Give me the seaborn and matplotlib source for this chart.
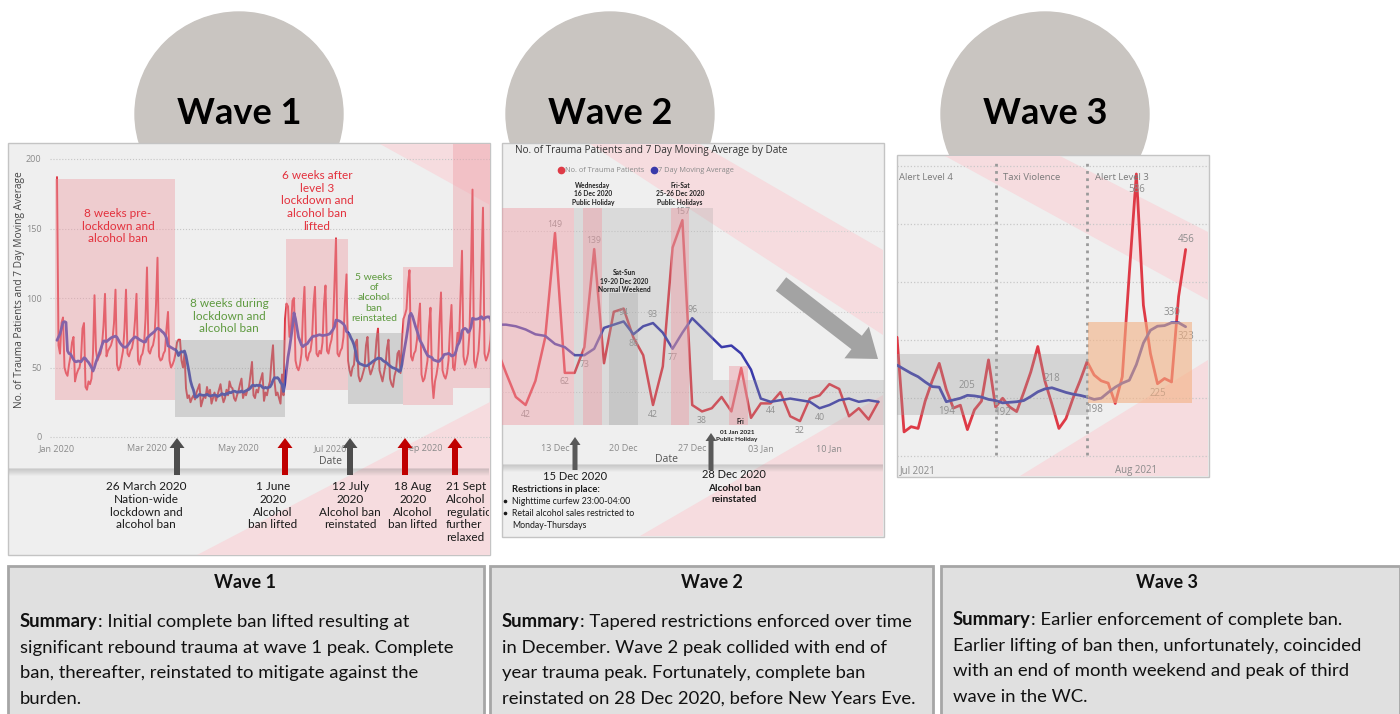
import pandas as pd
import matplotlib
matplotlib.use("Agg")
import matplotlib.pyplot as plt
from matplotlib.patches import Ellipse, Rectangle, Polygon, FancyArrow
import seaborn as sns

sns.set_theme(style="white")
plt.rcParams["font.family"] = ["Lato", "DejaVu Sans"]

# ---------------------------------------------------------------- data
# Wave 1: daily trauma patients, one row per week (Mon..Sun), 23 Dec 2019 - 18 Oct 2020
wave1_start = "2019-12-23"
wave1_counts = [
    48, 55, 60, 50, 44, 52, 58,
    46, 50, 187, 66, 60, 82, 86,
    50, 46, 44, 52, 58, 68, 72,
    40, 45, 48, 50, 56, 78, 82,
    36, 34, 40, 38, 42, 60, 102,
    62, 55, 58, 60, 66, 80, 103,
    58, 62, 64, 66, 70, 82, 106,
    52, 48, 50, 56, 62, 78, 106,
    60, 58, 62, 64, 70, 84, 103,
    55, 52, 58, 60, 66, 85, 122,
    62, 60, 64, 66, 72, 95, 129,
    58, 55, 56, 60, 62, 78, 90,
    55, 50, 52, 55, 60, 68, 70,
    70, 55, 50, 60, 35, 28, 30,
    25, 28, 30, 27, 32, 35, 38,
    22, 26, 30, 28, 36, 30, 34,
    24, 28, 32, 26, 30, 34, 38,
    30, 25, 28, 34, 30, 40, 36,
    35, 28, 26, 30, 33, 38, 42,
    28, 32, 30, 34, 36, 45, 54,
    30, 28, 34, 32, 38, 42, 46,
    26, 32, 30, 36, 40, 55, 66,
    40, 30, 32, 28, 24, 45, 30,
    85, 96, 94, 72, 80, 98, 100,
    55, 50, 48, 52, 60, 90, 108,
    58, 55, 60, 62, 70, 95, 108,
    60, 58, 62, 60, 68, 96, 109,
    62, 60, 66, 70, 78, 110, 143,
    60, 58, 62, 64, 72, 98, 117,
    55, 48, 44, 50, 52, 68, 70,
    44, 40, 42, 46, 50, 66, 72,
    50, 45, 48, 52, 55, 70, 78,
    48, 44, 40, 46, 52, 64, 70,
    42, 38, 36, 44, 48, 60, 62,
    46, 70, 85, 88, 92, 110, 120,
    58, 55, 60, 62, 70, 85, 96,
    45, 40, 42, 48, 55, 80, 93,
    42, 28, 40, 45, 52, 82, 104,
    48, 44, 42, 46, 55, 78, 95,
    50, 48, 60, 75, 68, 100, 134,
    58, 52, 55, 60, 75, 120, 178,
    55, 50, 56, 62, 80, 125, 165,
    60, 55, 58, 62, 70, 90, 100,
]
wave1_tick_dates = ["2020-01-01", "2020-03-01", "2020-05-01", "2020-07-01", "2020-09-01"]
wave1_tick_labels = ["Jan 2020", "Mar 2020", "May 2020", "Jul 2020", "Sep 2020"]
wave1_y_ticks = [0, 50, 100, 150, 200]

# Wave 2: 7 Dec 2020 - 15 Jan 2021
wave2_start = "2020-12-07"
wave2_counts = [78, 62, 47, 42, 57, 84, 149, 62, 62, 78, 139, 68, 100, 102, 84, 73, 42,
                66, 140, 157, 42, 38, 40, 47, 38, 65, 34, 43, 43, 50, 35, 32, 46, 48,
                55, 52, 35, 40, 33, 44]
wave2_avg = [92, 92, 91, 89, 86, 85, 80, 78, 73, 73, 77, 90, 92, 94, 86, 91, 93, 87, 77,
             87, 96, 90, 84, 78, 79, 74, 64, 46, 44, 45, 46, 45, 44, 40, 42, 45, 46, 44,
             45, 44]
wave2_tick_dates = ["2020-12-13", "2020-12-20", "2020-12-27", "2021-01-03", "2021-01-10"]
wave2_tick_labels = ["13 Dec", "20 Dec", "27 Dec", "03 Jan", "10 Jan"]
wave2_count_tags = [("2020-12-10", -1), ("2020-12-13", 1), ("2020-12-14", -1),
                    ("2020-12-17", 1), ("2020-12-23", -1), ("2020-12-26", 1),
                    ("2020-12-28", -1), ("2021-01-07", -1)]
wave2_avg_tags = [("2020-12-16", -1), ("2020-12-20", 1), ("2020-12-21", -1),
                  ("2020-12-23", 1), ("2020-12-25", -1), ("2020-12-27", 1),
                  ("2021-01-04", -1), ("2021-01-09", -1)]

# Wave 3: 28 Jun 2021 - 8 Aug 2021
wave3_start = "2021-06-28"
wave3_counts = [305, 142, 151, 148, 195, 230, 260, 215, 183, 188, 146, 180, 195, 266,
                185, 200, 185, 177, 210, 245, 289, 230, 190, 148, 165, 200, 230, 263,
                240, 230, 226, 191, 237, 415, 586, 360, 277, 225, 234, 228, 375, 456]
wave3_avg = [257, 250, 243, 237, 228, 220, 219, 194, 197, 200, 205, 204, 202, 198,
             196, 192, 193, 194, 196, 203, 211, 216, 218, 214, 210, 207, 205, 202,
             198, 200, 210, 219, 226, 231, 258, 295, 317, 324, 325, 330, 330, 323]
wave3_tick_dates = ["2021-07-01", "2021-08-01"]
wave3_tick_labels = ["Jul 2021", "Aug 2021"]
wave3_phase_dates = ["2021-07-12", "2021-07-25"]
wave3_phase_labels = ["Alert Level 4", "Taxi Violence", "Alert Level 3"]
wave3_count_tags = [("2021-08-01", -1.6), ("2021-08-04", -1), ("2021-08-08", 1)]
wave3_avg_tags = [("2021-07-05", -1), ("2021-07-08", 1), ("2021-07-13", -1),
                  ("2021-07-20", 1), ("2021-07-26", -1), ("2021-08-06", 1),
                  ("2021-08-08", -1)]

# ---------------------------------------------------------------- styling
RED = "#DE3A46"
BLUE = "#3A3AAA"
PINK = "#EE9CA5"
GREY = "#9E9E9E"
ORANGE = "#F4B183"
TICK = "#8A8A8A"
UI = ["Open Sans", "DejaVu Sans"]
W, H = 1400, 714

fig = plt.figure(figsize=(W / 100, H / 100), dpi=100)
fig.patch.set_facecolor("white")


def sheet(z, x0=0, y0=0, x1=W, y1=H):
    ax = fig.add_axes([x0 / W, 1 - y1 / H, (x1 - x0) / W, (y1 - y0) / H], zorder=z)
    ax.set_xlim(x0, x1)
    ax.set_ylim(y1, y0)
    ax.axis("off")
    ax.patch.set_alpha(0)
    return ax


bg = sheet(0)
top = sheet(10)
# text layer limited to the wave 1 panel, so its captions stop at the panel edge
w1_text = sheet(11, 8, 143, 489, 555)


def chart_axes(x0, y0, x1, y1):
    ax = fig.add_axes([x0 / W, 1 - y1 / H, (x1 - x0) / W, (y1 - y0) / H], zorder=5)
    ax.patch.set_alpha(0)
    for s in ax.spines.values():
        s.set_visible(False)
    return ax


def box(ax, x0, y0, x1, y1, **kw):
    ax.add_patch(Rectangle((x0, y0), x1 - x0, y1 - y0, **kw))


def shadow(ax, x0, x1, y):
    for i in range(7):
        ax.plot([x0, x1], [y + i, y + i], color="#7A7A7A", alpha=0.22 * (1 - i / 7),
                lw=1.2, solid_capstyle="butt", zorder=2.5)


def up_arrow(x, y_tip, y_base, color, w=6, hw=15, hl=10):
    top.add_patch(FancyArrow(x, y_base, 0, y_tip - y_base, width=w, head_width=hw,
                             head_length=hl, length_includes_head=True, color=color,
                             lw=0, zorder=12))


# ---------------------------------------------------------------- headers
for cx, name in [(239, "Wave 1"), (610, "Wave 2"), (1045, "Wave 3")]:
    bg.add_patch(Ellipse((cx, 114), 208, 204, color="#C9C5C1", zorder=1))
    bg.text(cx, 113, name, fontsize=26, fontweight="bold", ha="center", va="center",
            color="black", zorder=3)

# ---------------------------------------------------------------- panels
panels = [(8, 143, 490, 555), (502, 143, 884, 537), (897, 155, 1209, 477)]
for x0, y0, x1, y1 in panels:
    box(bg, x0, y0, x1, y1, facecolor="#EFEFEF", edgecolor="#C4C4C4", lw=1, zorder=2)

swooshes = [
    [(197, 555), (490, 402), (490, 555)],
    [(380, 144), (490, 144), (490, 205)],
    [(590, 144), (700, 144), (883, 250), (883, 335)],
    [(640, 536), (883, 395), (883, 536)],
    [(945, 156), (1060, 156), (1208, 232), (1208, 300)],
    [(1020, 476), (1208, 360), (1208, 476)],
]
for pts in swooshes:
    bg.add_patch(Polygon(pts, closed=True, facecolor="#F6DCDF", edgecolor="none", zorder=2.1))
shadow(bg, 9, 489, 469)
shadow(bg, 503, 883, 465)

# ---------------------------------------------------------------- wave 1 chart
d1 = pd.DataFrame({"date": pd.date_range(wave1_start, periods=len(wave1_counts)),
                   "count": wave1_counts})
d1["avg"] = d1["count"].rolling(7).mean()
d1 = d1[d1["date"] >= "2020-01-01"]

ax1 = chart_axes(50, 150, 490, 440)
sns.lineplot(data=d1, x="date", y="count", ax=ax1, color=RED, lw=1.4)
sns.lineplot(data=d1, x="date", y="avg", ax=ax1, color=BLUE, lw=2.0)
day0 = pd.Timestamp("2020-01-01")
ax1.set_xlim(day0 + pd.Timedelta(days=(50 - 57) / 1.5), day0 + pd.Timedelta(days=(490 - 57) / 1.5))
ax1.set_ylim((437 - 440) / 1.39, (437 - 150) / 1.39)
ax1.set_xticks([pd.Timestamp(d) for d in wave1_tick_dates])
ax1.set_xticklabels(wave1_tick_labels, family=UI)
ax1.set_yticks(wave1_y_ticks)
ax1.set_yticklabels([str(v) for v in wave1_y_ticks], family=UI)
ax1.tick_params(length=0, labelsize=6.5, labelcolor=TICK, pad=3)
ax1.tick_params(axis="y", pad=6)
ax1.grid(axis="y", ls=":", color="#C6C6C6", lw=0.8)
ax1.set_xlabel("")
ax1.set_ylabel("")
top.text(331, 461, "Date", fontsize=7.5, color="#555555", ha="center", va="center", family=UI)
top.text(20, 290, "No. of Trauma Patients and 7 Day Moving Average", rotation=90,
         fontsize=7.3, color="#444444", ha="center", va="center", family=UI)

for (x0, y0, x1, y1), c, a in [
        ((55, 179, 175, 400), PINK, 0.42), ((175, 340, 285, 417), GREY, 0.38),
        ((286, 239, 348, 390), PINK, 0.42), ((348, 333, 403, 404), GREY, 0.38),
        ((403, 267, 453, 405), PINK, 0.42), ((453, 144, 490, 388), PINK, 0.42)]:
    box(top, x0, y0, x1, y1, facecolor=c, alpha=a, edgecolor="none", zorder=11)

W1_RED, W1_GREEN = "#E3303C", "#5E9A3F"
top.text(118, 226, "8 weeks pre-\nlockdown and\nalcohol ban", color=W1_RED, fontsize=8.5,
         ha="center", va="center", linespacing=1.2, zorder=13)
top.text(229, 316, "8 weeks during\nlockdown and\nalcohol ban", color=W1_GREEN, fontsize=8.5,
         ha="center", va="center", linespacing=1.2, zorder=13)
top.text(317, 201, "6 weeks after\nlevel 3\nlockdown and\nalcohol ban\nlifted", color=W1_RED,
         fontsize=8.5, ha="center", va="center", linespacing=1.2, zorder=13)
top.text(374, 298, "5 weeks\nof\nalcohol\nban\nreinstated", color=W1_GREEN, fontsize=7.5,
         ha="center", va="center", linespacing=1.2, zorder=13)

for x, col in [(177, "#4D4D4D"), (285, "#C00000"), (350, "#4D4D4D"), (405, "#C00000"), (455, "#C00000")]:
    up_arrow(x, 438, 475, col)

events1 = [(146, "center", "26 March 2020\nNation-wide\nlockdown and\nalcohol ban"),
           (273, "center", "1 June\n2020\nAlcohol\nban lifted"),
           (350, "center", "12 July\n2020\nAlcohol ban\nreinstated"),
           (413, "center", "18 Aug\n2020\nAlcohol\nban lifted"),
           (446, "left", "21 Sept 2020\nAlcohol\nregulations\nfurther\nrelaxed")]
for x, ha, txt in events1:
    w1_text.text(x, 481, txt, fontsize=8.5, color="#1A1A1A", ha=ha, va="top",
                 linespacing=1.2, clip_on=True)

# ---------------------------------------------------------------- wave 2 chart
d2 = pd.DataFrame({"date": pd.date_range(wave2_start, periods=len(wave2_counts)),
                   "count": wave2_counts, "avg": wave2_avg})
ax2 = chart_axes(502, 195, 884, 440)
sns.lineplot(data=d2, x="date", y="count", ax=ax2, color=RED, lw=1.8)
sns.lineplot(data=d2, x="date", y="avg", ax=ax2, color=BLUE, lw=1.8)
ref2 = pd.Timestamp("2020-12-13")
ax2.set_xlim(ref2 + pd.Timedelta(days=(502 - 555) / 9.8), ref2 + pd.Timedelta(days=(884 - 555) / 9.8))
ax2.set_ylim((472.5 - 440) / 1.607, (472.5 - 195) / 1.607)
ax2.set_xticks([pd.Timestamp(d) for d in wave2_tick_dates])
ax2.set_xticklabels(wave2_tick_labels, family=UI)
ax2.set_yticks([50, 100, 150])
ax2.set_yticklabels([])
ax2.tick_params(length=0, labelsize=6.5, labelcolor=TICK, pad=3)
ax2.grid(axis="y", ls=":", color="#D0D0D0", lw=0.8)
ax2.set_xlabel("")
ax2.set_ylabel("")


def tag(ax, frame, col, when, side, size, gap):
    row = frame[frame["date"] == pd.Timestamp(when)].iloc[0]
    ax.annotate(str(int(row[col])), (row["date"], row[col]), xytext=(0, side * gap),
                textcoords="offset points", ha="center", va="center", fontsize=size,
                color="#8C8C8C", family=UI, zorder=6)


for when, side in wave2_count_tags:
    tag(ax2, d2, "count", when, side, 6.3, 6.5)
for when, side in wave2_avg_tags:
    tag(ax2, d2, "avg", when, side, 6.3, 6.5)

top.text(515, 151, "No. of Trauma Patients and 7 Day Moving Average by Date", fontsize=7.2,
         color="#333333", ha="left", va="center", family=UI)
top.plot([561], [170], "o", color=RED, ms=4.5, zorder=12)
top.text(565, 170, "No. of Trauma Patients", fontsize=5.3, color="#8A8A8A", va="center", family=UI)
top.plot([654], [170], "o", color=BLUE, ms=4.5, zorder=12)
top.text(658, 170, "7 Day Moving Average", fontsize=5.3, color="#8A8A8A", va="center", family=UI)
top.text(666, 460, "Date", fontsize=7.5, color="#555555", ha="center", va="center", family=UI)

for (x0, y0, x1, y1), c, a in [
        ((502, 208, 574, 425), PINK, 0.45), ((574, 208, 713, 425), GREY, 0.25),
        ((583, 208, 602, 425), PINK, 0.45), ((609, 293, 638, 425), GREY, 0.3),
        ((671, 208, 689, 425), PINK, 0.45), ((713, 380, 884, 425), GREY, 0.25),
        ((729, 366, 748, 425), PINK, 0.45)]:
    box(top, x0, y0, x1, y1, facecolor=c, alpha=a, edgecolor="none", zorder=11)

for x, y, txt in [(593, 194, "Wednesday\n16 Dec 2020\nPublic Holiday"),
                  (624, 281, "Sat-Sun\n19-20 Dec 2020\nNormal Weekend"),
                  (680, 194, "Fri-Sat\n25-26 Dec 2020\nPublic Holidays")]:
    top.text(x, y, txt, fontsize=4.8, fontweight="bold", color="#222222", ha="center",
             va="center", linespacing=1.25, zorder=13)
top.text(740, 421, "Fri", fontsize=4.8, fontweight="bold", color="#222222", ha="center", va="center", zorder=13)
top.text(737, 436, "01 Jan 2021\nPublic Holiday", fontsize=4.6, fontweight="bold", color="#222222",
         ha="center", va="center", linespacing=1.25, zorder=13)

top.add_patch(FancyArrow(781, 284, 97, 75, width=17, head_width=40, head_length=27,
                         length_includes_head=True, color="#A3A3A3", lw=0, zorder=12))
up_arrow(575, 437, 470, "#595959", w=5, hw=11, hl=8)
up_arrow(711, 433, 470, "#595959", w=5, hw=11, hl=8)

top.text(575, 477, "15 Dec 2020", fontsize=8, color="#1A1A1A", ha="center", va="center", zorder=13)
top.text(512, 489, "Restrictions in place:", fontsize=6.8, fontweight="bold", color="#1A1A1A",
         va="center", zorder=13)
for y, txt in [(501, "Nighttime curfew 23:00-04:00"), (513, "Retail alcohol sales restricted to"),
               (525, "Monday-Thursdays")]:
    top.text(512, y, txt, fontsize=6.3, color="#1A1A1A", va="center", zorder=13)
top.plot([505, 505], [501, 513], "o", color="#1A1A1A", ms=1.6, zorder=13)
top.text(734, 475, "28 Dec 2020", fontsize=8, color="#1A1A1A", ha="center", va="center", zorder=13)
top.text(734, 494, "Alcohol ban\nreinstated", fontsize=7.2, fontweight="bold", color="#1A1A1A",
         ha="center", va="center", linespacing=1.25, zorder=13)

# ---------------------------------------------------------------- wave 3 chart
d3 = pd.DataFrame({"date": pd.date_range(wave3_start, periods=len(wave3_counts)),
                   "count": wave3_counts, "avg": wave3_avg})
ax3 = chart_axes(897, 160, 1209, 458)
sns.lineplot(data=d3, x="date", y="count", ax=ax3, color=RED, lw=2.0)
sns.lineplot(data=d3, x="date", y="avg", ax=ax3, color=BLUE, lw=2.0)
ref3 = pd.Timestamp(wave3_start)
ax3.set_xlim(ref3, ref3 + pd.Timedelta(days=(1209 - 897) / 7.04))
ax3.set_ylim(330 - (458 - 322.7) / 0.581, 330 + (322.7 - 160) / 0.581)
ax3.set_xticks([pd.Timestamp(d) for d in wave3_tick_dates])
ax3.set_xticklabels(wave3_tick_labels, family=UI)
ax3.set_yticks([100, 200, 300, 400, 500, 600])
ax3.set_yticklabels([])
ax3.tick_params(length=0, labelsize=7, labelcolor=TICK, pad=5)
ax3.grid(axis="y", ls=":", color="#C8C8C8", lw=0.9)
ax3.set_xlabel("")
ax3.set_ylabel("")
for d in wave3_phase_dates:
    ax3.axvline(pd.Timestamp(d), color="#9A9A9A", lw=2, ls=(0, (1, 1.6)), ymin=0.01, ymax=1)
for x, txt in zip([899, 1003, 1095], wave3_phase_labels):
    top.text(x, 177, txt, fontsize=6.8, color="#7A7A7A", va="center", family=UI, zorder=13)

for when, side in wave3_count_tags:
    tag(ax3, d3, "count", when, side, 7, 7)
for when, side in wave3_avg_tags:
    tag(ax3, d3, "avg", when, side, 7, 7)

box(top, 897, 354, 1088, 415, facecolor=GREY, alpha=0.32, edgecolor="none", zorder=11)
box(top, 1088, 322, 1192, 403, facecolor=ORANGE, alpha=0.6, edgecolor="none", zorder=11)

# ---------------------------------------------------------------- summary boxes
summaries = [
    (8, 484, 245, 20, 622, ["Initial complete ban lifted resulting at",
                            "significant rebound trauma at wave 1 peak. Complete",
                            "ban, thereafter, reinstated to mitigate against the",
                            "burden."], "Wave 1"),
    (490, 933, 712, 502, 622, ["Tapered restrictions enforced over time",
                               "in December. Wave 2 peak collided with end of",
                               "year trauma peak. Fortunately, complete ban",
                               "reinstated on 28 Dec 2020, before New Years Eve."], "Wave 2"),
    (941, 1400, 1167, 953, 620, ["Earlier enforcement of complete ban.",
                                 "Earlier lifting of ban then, unfortunately, coincided",
                                 "with an end of month weekend and peak of third",
                                 "wave in the WC."], "Wave 3"),
]
renderer = fig.canvas.get_renderer()
for x0, x1, cx, tx, ty, lines, head in summaries:
    box(bg, x0, 566, x1, 730, facecolor="#E0E0E0", edgecolor="#A6A6A6", lw=2, zorder=2)
    bg.text(cx, 583, head, fontsize=13, fontweight="bold", ha="center", va="center",
            color="#111111", zorder=3)
    lead = bg.text(tx, ty, "Summary", fontsize=13.3, fontweight="bold", va="center",
                   color="#111111", zorder=3)
    wlead = lead.get_window_extent(renderer).width
    bg.text(tx + wlead, ty, ": " + lines[0], fontsize=13.3, va="center", color="#111111", zorder=3)
    for i, ln in enumerate(lines[1:], start=1):
        bg.text(tx, ty + 25.7 * i, ln, fontsize=13.3, va="center", color="#111111", zorder=3)

fig.savefig("out.png", dpi=100, facecolor="white")
